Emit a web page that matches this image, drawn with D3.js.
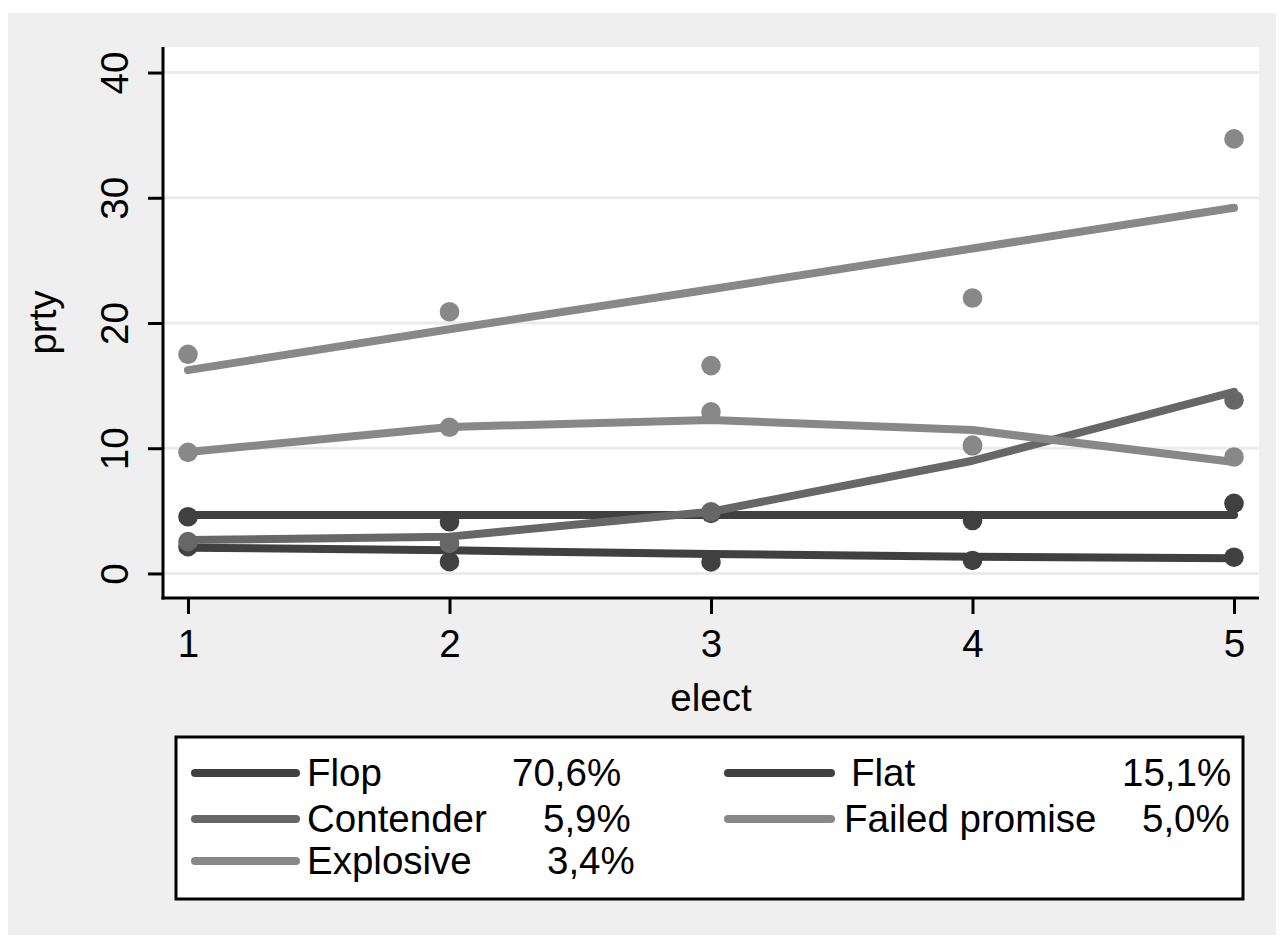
<!DOCTYPE html>
<html>
<head>
<meta charset="utf-8">
<script src="https://cdn.jsdelivr.net/npm/d3@7"></script>
<style>
  html, body { margin: 0; padding: 0; background: #ffffff; }
  svg { display: block; }
  text { font-family: "Liberation Sans", Arial, sans-serif; fill: #000; }
</style>
</head>
<body>
<svg id="chart" width="1283" height="940"></svg>
<script>
// Election index on the x axis
const elections = [1, 2, 3, 4, 5];

// Trajectory groups, their shares and legend labels
const groupNames = ["Flop", "Flat", "Contender", "Failed promise", "Explosive"];
const groupShares = ["70,6%", "15,1%", "5,9%", "5,0%", "3,4%"];

// Observed party scores (dots) per group
const flopObs      = [2.14, 0.94, 0.92, 1.04, 1.3];
const flatObs      = [4.53, 4.13, 4.8, 4.23, 5.6];
const contenderObs = [2.54, 2.4, 4.93, 10.2, 13.85];
const failedObs    = [9.67, 11.67, 12.9, 10.25, 9.3];
const explosiveObs = [17.5, 20.9, 16.6, 22.0, 34.7];

// Fitted trajectories (lines) per group
const flopFit      = [2.06, 1.85, 1.55, 1.34, 1.21];
const flatFit      = [4.67, 4.67, 4.67, 4.67, 4.67];
const contenderFit = [2.67, 2.94, 4.93, 9.0, 14.5];
const failedFit    = [9.7, 11.7, 12.25, 11.45, 8.9];
const explosiveFit = [16.24, 19.5, 22.7, 25.95, 29.2];

const yTicks = [0, 10, 20, 30, 40];

const obsByGroup = [flopObs, flatObs, contenderObs, failedObs, explosiveObs];
const fitByGroup = [flopFit, flatFit, contenderFit, failedFit, explosiveFit];
const groupColors = ["#404040", "#404040", "#676767", "#888888", "#888888"];

const svg = d3.select("#chart");
const FONT = 38.5;

// Outer panel
svg.append("rect").attr("x", 8).attr("y", 13).attr("width", 1268).attr("height", 922)
  .attr("fill", "#efefef");

// Plot region
const plot = { left: 163, right: 1259, top: 47, bottom: 598 };
svg.append("rect")
  .attr("x", plot.left).attr("y", plot.top)
  .attr("width", plot.right - plot.left).attr("height", plot.bottom - plot.top)
  .attr("fill", "#ffffff");

const x = d3.scaleLinear().domain([1, 5]).range([188, 1234]);
const y = d3.scaleLinear().domain([-1.96, 42.04]).range([plot.bottom, plot.top]);

// Horizontal grid
svg.append("g").selectAll("line").data(yTicks).join("line")
  .attr("x1", plot.left).attr("x2", plot.right)
  .attr("y1", d => y(d)).attr("y2", d => y(d))
  .attr("stroke", "#ebebeb").attr("stroke-width", 3);

// Series: line plus dots
const series = groupNames.map((name, i) => ({
  name, share: groupShares[i], color: groupColors[i],
  obs: obsByGroup[i], fit: fitByGroup[i]
}));

const lineGen = d3.line().x((d, i) => x(elections[i])).y(d => y(d));

const marks = svg.append("g");
series.forEach(s => {
  const g = marks.append("g");
  g.append("path").datum(s.fit)
    .attr("d", lineGen)
    .attr("fill", "none").attr("stroke", s.color)
    .attr("stroke-width", 8).attr("stroke-linejoin", "round").attr("stroke-linecap", "round");
  g.selectAll("circle").data(s.obs).join("circle")
    .attr("cx", (d, i) => x(elections[i])).attr("cy", d => y(d))
    .attr("r", 9.8).attr("fill", s.color);
});

// Y axis
const yAxis = d3.axisLeft(y).tickValues(yTicks).tickSize(15);
const gy = svg.append("g").attr("transform", `translate(${plot.left},0)`).call(yAxis);
gy.select(".domain").remove();
gy.selectAll(".tick line").attr("stroke", "#000").attr("stroke-width", 3);
gy.selectAll(".tick text").remove();
gy.selectAll(".tick").append("text")
  .attr("transform", "translate(-35,0) rotate(-90)")
  .attr("text-anchor", "middle")
  .attr("font-size", FONT)
  .text(d => d);
svg.append("line").attr("x1", plot.left).attr("x2", plot.left)
  .attr("y1", plot.top).attr("y2", plot.bottom + 1.5)
  .attr("stroke", "#000").attr("stroke-width", 3);

// X axis
const xAxis = d3.axisBottom(x).tickValues(elections).tickSize(16).tickFormat(d3.format("d"));
const gx = svg.append("g").attr("transform", `translate(0,${plot.bottom})`).call(xAxis);
gx.select(".domain").remove();
gx.selectAll(".tick line").attr("stroke", "#000").attr("stroke-width", 3);
gx.selectAll(".tick text").attr("font-size", FONT).attr("y", 59).attr("dy", 0)
  .attr("font-family", "Liberation Sans, Arial, sans-serif").attr("fill", "#000");
svg.append("line").attr("x1", plot.left - 1.5).attr("x2", plot.right)
  .attr("y1", plot.bottom).attr("y2", plot.bottom)
  .attr("stroke", "#000").attr("stroke-width", 3);

// Axis titles
svg.append("text").attr("x", (plot.left + plot.right) / 2).attr("y", 711)
  .attr("text-anchor", "middle").attr("font-size", FONT).text("elect");
svg.append("text")
  .attr("transform", `translate(56,${(plot.top + plot.bottom) / 2}) rotate(-90)`)
  .attr("text-anchor", "middle").attr("font-size", FONT).text("prty");

// Legend
const legend = { left: 176, top: 737, right: 1243, bottom: 899 };
svg.append("rect")
  .attr("x", legend.left).attr("y", legend.top)
  .attr("width", legend.right - legend.left).attr("height", legend.bottom - legend.top)
  .attr("fill", "#ffffff").attr("stroke", "#000").attr("stroke-width", 3);

const colSample = [[195, 296], [728, 831]];
const colName = [307, 844];
const rowY = [773, 819, 861];
// name start and share start for each entry (row-major, two columns)
const entryLayout = [
  { col: 0, row: 0, nameDx: 0, shareX: 512 },
  { col: 1, row: 0, nameDx: 7, shareX: 1122 },
  { col: 0, row: 1, nameDx: 0, shareX: 543 },
  { col: 1, row: 1, nameDx: 0, shareX: 1142 },
  { col: 0, row: 2, nameDx: 0, shareX: 547 }
];

const lg = svg.append("g");
series.forEach((s, i) => {
  const L = entryLayout[i];
  const cy = rowY[L.row];
  lg.append("line")
    .attr("x1", colSample[L.col][0]).attr("x2", colSample[L.col][1])
    .attr("y1", cy).attr("y2", cy)
    .attr("stroke", s.color).attr("stroke-width", 8).attr("stroke-linecap", "round");
  lg.append("text").attr("x", colName[L.col] + L.nameDx).attr("y", cy + 13)
    .attr("font-size", FONT).text(s.name);
  lg.append("text").attr("x", L.shareX).attr("y", cy + 13)
    .attr("font-size", FONT).text(s.share);
});
</script>
</body>
</html>
